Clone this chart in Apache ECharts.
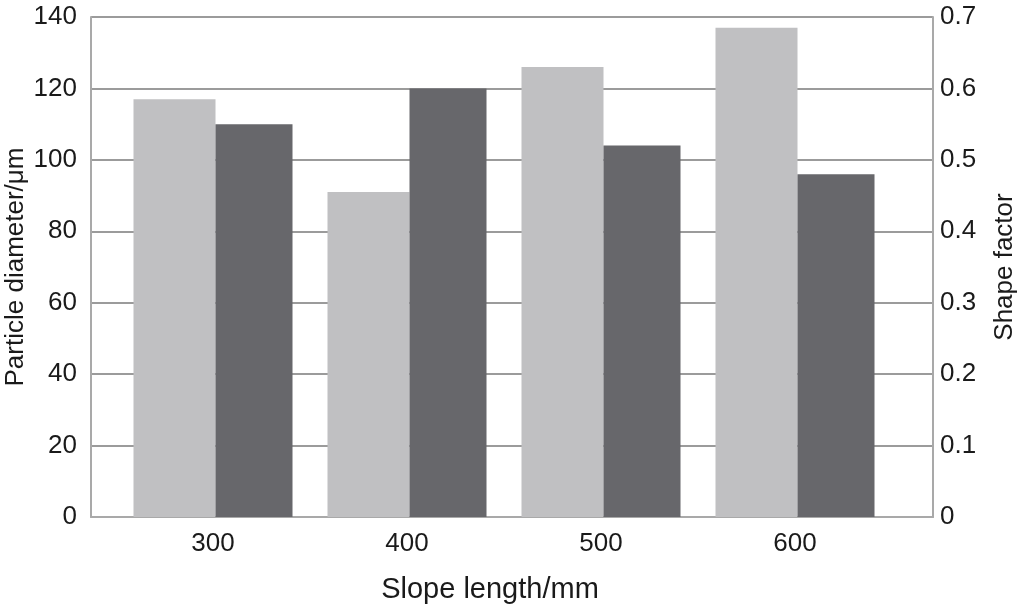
<!DOCTYPE html>
<html>
<head>
<meta charset="utf-8">
<script src="https://cdn.jsdelivr.net/npm/echarts@6/dist/echarts.min.js"></script>
<style>
  html, body { margin: 0; padding: 0; background: #fff; }
  #main { width: 1024px; height: 609px; }
</style>
</head>
<body>
<div id="main"></div>
<script>
// slope length categories
const categories = ['300', '400', '500', '600'];
// particle diameter (left axis, μm)
const diameter = [117, 91, 126, 137];
// shape factor (right axis)
const shapeFactor = [0.55, 0.6, 0.52, 0.48];

const font = '"Liberation Sans", Arial, sans-serif';
const txt = '#1a1a1a';

let chart = echarts.init(document.getElementById('main'));
let option = {
  animation: false,
  backgroundColor: '#fff',
  textStyle: { fontFamily: font },
  grid: [
    // frame: axis lines + gridlines
    { left: 91, right: 91, top: 17, bottom: 92, outerBoundsMode: 'none', containLabel: false },
    // bars sit a bit inside the frame
    { left: 116, right: 132, top: 17, bottom: 92, outerBoundsMode: 'none', containLabel: false }
  ],
  xAxis: [
    {
      gridIndex: 0, type: 'value', min: 0, max: 1,
      axisLine: { show: true, lineStyle: { color: '#a9a9a9', width: 2 } },
      axisTick: { show: false }, axisLabel: { show: false }, splitLine: { show: false },
      name: 'Slope length/mm', nameLocation: 'middle', nameGap: 58,
      nameTextStyle: { fontSize: 29, color: txt, fontFamily: font, padding: [0, 44, 0, 0] }
    },
    {
      gridIndex: 1, type: 'category', data: categories,
      axisLine: { show: false }, axisTick: { show: false },
      axisLabel: { fontSize: 26, color: txt, margin: 14, fontFamily: font }
    }
  ],
  yAxis: [
    {
      gridIndex: 0, type: 'value', position: 'left', min: 0, max: 140, interval: 20,
      axisLine: { show: true, lineStyle: { color: '#a9a9a9', width: 2 } },
      axisTick: { show: false },
      axisLabel: { fontSize: 26, color: txt, margin: 14, fontFamily: font },
      splitLine: { show: true, lineStyle: { color: '#7a7a7a', width: 1.5 } },
      name: 'Particle diameter/μm', nameLocation: 'middle', nameGap: 62,
      nameMoveOverlap: false,
      nameTextStyle: { fontSize: 26, color: txt, fontFamily: font }
    },
    {
      gridIndex: 0, type: 'value', position: 'right', min: 0, max: 0.7, interval: 0.1,
      axisLine: { show: true, lineStyle: { color: '#a9a9a9', width: 2 } },
      axisTick: { show: false },
      axisLabel: { fontSize: 26, color: txt, margin: 7, fontFamily: font },
      splitLine: { show: false },
      name: 'Shape factor', nameLocation: 'middle', nameGap: 59,
      nameTextStyle: { fontSize: 26, color: txt, fontFamily: font }
    },
    { gridIndex: 1, type: 'value', min: 0, max: 140, show: false, splitLine: { show: false } },
    { gridIndex: 1, type: 'value', min: 0, max: 0.7, show: false, splitLine: { show: false } }
  ],
  series: [
    {
      name: 'Particle diameter', type: 'bar', xAxisIndex: 1, yAxisIndex: 2,
      data: diameter, barWidth: 82, barGap: 0,
      itemStyle: { color: '#c0c0c2' }
    },
    {
      name: 'Shape factor', type: 'bar', xAxisIndex: 1, yAxisIndex: 3,
      data: shapeFactor, barWidth: 77, barGap: 0,
      itemStyle: { color: '#67676b' }
    }
  ]
};
option && chart.setOption(option);
</script>
</body>
</html>
